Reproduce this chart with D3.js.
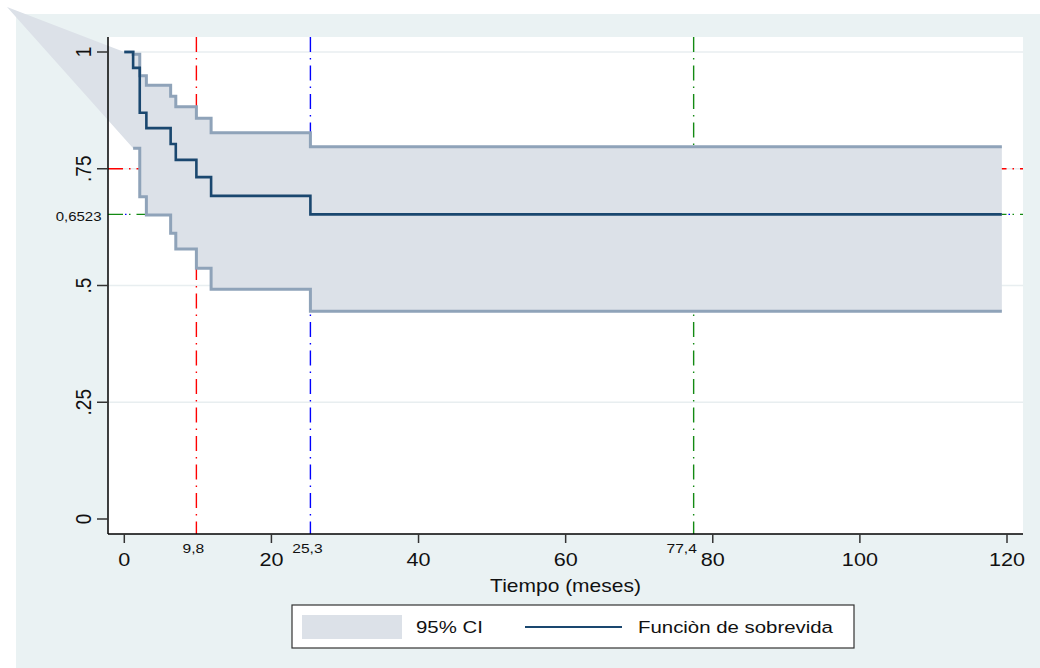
<!DOCTYPE html>
<html lang="es">
<head>
    <meta charset="UTF-8">
    <title>Función de sobrevida</title>
    <script src="https://d3js.org/d3.v7.min.js"></script>
    <style>
        body {
            margin: 0;
            padding: 0;
            background: #fff;
        }
        svg {
            font-family: "Liberation Sans", Arial, sans-serif;
            display: block;
        }
    </style>
</head>
<body>
    <svg width="1040" height="668"></svg>

    <script>
        // Kaplan-Meier estimate
        const survTime = [0, 1.2, 2.1, 3.0, 6.3, 7.0, 9.8, 11.8, 25.3];
        const survValue = [1, 0.966, 0.870, 0.837, 0.803, 0.769, 0.732, 0.692, 0.6523];
        const followUpEnd = 119.3;

        // 95% CI, lower bound missing while S(t) = 1
        const ciTime = [0, 1.2, 2.1, 3.0, 6.3, 7.0, 9.8, 11.8, 25.3];
        const ciUpper = [1, 0.995, 0.949, 0.929, 0.905, 0.883, 0.858, 0.827, 0.797];
        const ciLower = [null, 0.794, 0.690, 0.651, 0.612, 0.578, 0.537, 0.492, 0.445];

        // reference marks
        const refTimes = [9.8, 25.3, 77.4];
        const refTimeLabels = ["9,8", "25,3", "77,4"];
        const refColors = ["#ff0000", "#0000ff", "#138a13"];
        const refSurv = [0.75, 0.6523, 0.6523];

        const xTicks = [0, 20, 40, 60, 80, 100, 120];
        const yTicks = [0, 0.25, 0.5, 0.75, 1];
        const yTickLabels = ["0", ".25", ".5", ".75", "1"];
        const yGrid = [0.25, 0.5, 0.75, 1];
        const medianLabel = "0,6523";

        const width = 1040, height = 668;
        const plot = { left: 108, right: 1023, top: 37, bottom: 534 };
        const dashDot = "15,6,1.5,6";

        const svg = d3.select("svg");

        const x = d3.scaleLinear().domain([0, 120]).range([124.3, 1007]);
        const y = d3.scaleLinear().domain([0, 1]).range([519, 52]);

        // the stata export looks stretched sideways, so text is widened a bit
        function txt(parent, px, py, s, size, anchor, rotated) {
            return parent.append("text")
                .attr("transform", `translate(${px},${py})` + (rotated ? " rotate(-90) scale(1,1.2)" : " scale(1.2,1)"))
                .attr("text-anchor", anchor)
                .attr("font-size", size)
                .attr("fill", "#111")
                .text(s);
        }

        function steps(times, vals, tEnd) {
            const pts = [];
            times.forEach((t, i) => {
                if (vals[i] == null) return;
                const next = i < times.length - 1 ? times[i + 1] : tEnd;
                pts.push([t, vals[i]], [next, vals[i]]);
            });
            return pts;
        }

        // graph region
        svg.append("rect")
            .attr("x", 16).attr("y", 14)
            .attr("width", width - 16).attr("height", height - 14)
            .attr("fill", "#eaf2f3");

        svg.append("rect")
            .attr("x", plot.left).attr("y", plot.top)
            .attr("width", plot.right - plot.left).attr("height", plot.bottom - plot.top)
            .attr("fill", "#fff");

        // grid
        svg.append("g").selectAll("line")
            .data(yGrid)
            .join("line")
            .attr("x1", plot.left).attr("x2", plot.right)
            .attr("y1", d => y(d)).attr("y2", d => y(d))
            .attr("stroke", "#e8eef0")
            .attr("stroke-width", 1.6);

        // horizontal reference lines; the blue one only peeks through the green gaps
        const hRef = svg.append("g");
        [0, 2].forEach(i => {
            hRef.append("line")
                .attr("x1", plot.left).attr("x2", plot.right)
                .attr("y1", y(refSurv[i])).attr("y2", y(refSurv[i]))
                .attr("stroke", refColors[i])
                .attr("stroke-width", 1.4)
                .attr("stroke-dasharray", dashDot);
        });
        hRef.append("line")
            .attr("x1", plot.left).attr("x2", plot.right)
            .attr("y1", y(refSurv[1])).attr("y2", y(refSurv[1]))
            .attr("stroke", refColors[1])
            .attr("stroke-width", 1.4)
            .attr("stroke-dasharray", "1.5,27")
            .attr("stroke-dashoffset", -17);

        // vertical reference lines
        svg.append("g").selectAll("line")
            .data(refTimes)
            .join("line")
            .attr("x1", d => x(d)).attr("x2", d => x(d))
            .attr("y1", plot.top).attr("y2", plot.bottom)
            .attr("stroke", (d, i) => refColors[i])
            .attr("stroke-width", 1.4)
            .attr("stroke-dasharray", dashDot);

        // CI band; the original export has a stray vertex near the corner,
        // which shows up as a grey wedge running from the top-left
        const upperPts = steps(ciTime, ciUpper, followUpEnd);
        const lowerPts = steps(ciTime, ciLower, followUpEnd).reverse();
        const strayVertex = [7, 7];
        const bandPts = [strayVertex]
            .concat(upperPts.map(p => [x(p[0]), y(p[1])]))
            .concat(lowerPts.map(p => [x(p[0]), y(p[1])]));

        svg.append("path")
            .attr("d", d3.line()(bandPts) + "Z")
            .attr("fill", "#dce1e8")
            .attr("stroke", "none");

        const stepLine = d3.line()
            .x(d => x(d[0]))
            .y(d => y(d[1]))
            .curve(d3.curveLinear);

        [upperPts, lowerPts].forEach(pts => {
            svg.append("path")
                .attr("d", stepLine(pts))
                .attr("fill", "none")
                .attr("stroke", "#8fa3b9")
                .attr("stroke-width", 3);
        });

        svg.append("path")
            .attr("d", stepLine(steps(survTime, survValue, followUpEnd)))
            .attr("fill", "none")
            .attr("stroke", "#1a476f")
            .attr("stroke-width", 2.6);

        // axes
        const axes = svg.append("g");
        axes.append("line")
            .attr("x1", plot.left).attr("x2", plot.left)
            .attr("y1", plot.top).attr("y2", plot.bottom)
            .attr("stroke", "#000").attr("stroke-width", 1.5);
        axes.append("line")
            .attr("x1", plot.left).attr("x2", plot.right)
            .attr("y1", plot.bottom).attr("y2", plot.bottom)
            .attr("stroke", "#000").attr("stroke-width", 1.5);

        axes.selectAll(".ytick")
            .data(yTicks)
            .join("line")
            .attr("class", "ytick")
            .attr("x1", plot.left - 11).attr("x2", plot.left)
            .attr("y1", d => y(d)).attr("y2", d => y(d))
            .attr("stroke", "#333").attr("stroke-width", 1.5);

        yTicks.forEach((d, i) => txt(axes, 91, y(d), yTickLabels[i], 19, "middle", true));
        txt(axes, 101.5, y(refSurv[1]) + 7, medianLabel, 12.5, "end", false);

        axes.selectAll(".xtick")
            .data(xTicks)
            .join("line")
            .attr("class", "xtick")
            .attr("x1", d => x(d)).attr("x2", d => x(d))
            .attr("y1", plot.bottom).attr("y2", plot.bottom + 9)
            .attr("stroke", "#333").attr("stroke-width", 1.5);

        xTicks.forEach(d => txt(axes, x(d), 566, d, 18, "middle", false));
        refTimes.forEach((d, i) => {
            const shift = i === 2 ? -12 : -3;
            txt(axes, x(d) + shift, 553, refTimeLabels[i], 13, "middle", false);
        });

        txt(axes, (plot.left + plot.right) / 2, 592, "Tiempo (meses)", 17.5, "middle", false);

        // legend
        const legend = svg.append("g");
        legend.append("rect")
            .attr("x", 292).attr("y", 605)
            .attr("width", 562).attr("height", 43)
            .attr("fill", "#fff")
            .attr("stroke", "#333").attr("stroke-width", 1.2);
        legend.append("rect")
            .attr("x", 302).attr("y", 615)
            .attr("width", 100).attr("height", 24)
            .attr("fill", "#dce1e8");
        txt(legend, 416, 633, "95% CI", 17, "start", false);
        legend.append("line")
            .attr("x1", 525).attr("x2", 622)
            .attr("y1", 627).attr("y2", 627)
            .attr("stroke", "#1a476f").attr("stroke-width", 2);
        txt(legend, 638, 633, "Funciòn de sobrevida", 17, "start", false);
    </script>
</body>
</html>
